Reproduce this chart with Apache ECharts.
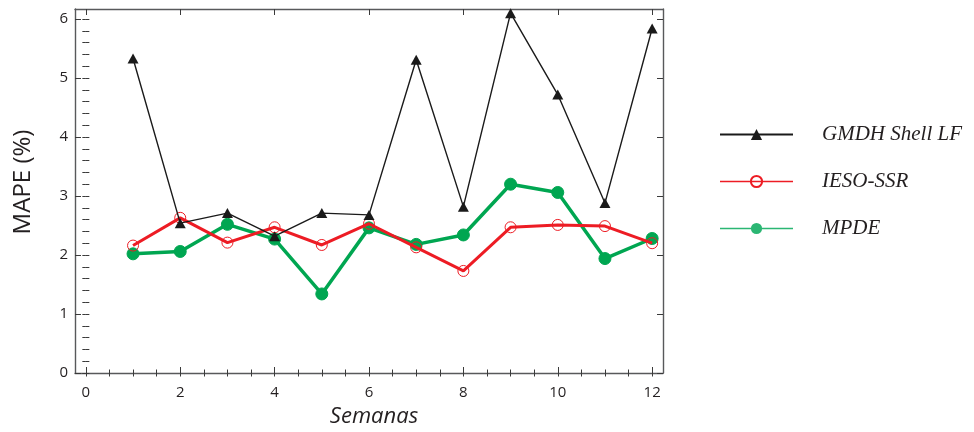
<!DOCTYPE html>
<html>
<head>
<meta charset="utf-8">
<script src="https://cdn.jsdelivr.net/npm/echarts@6/dist/echarts.min.js"></script>
<style>
  html, body { margin: 0; padding: 0; background: #fff; }
  #chart { width: 974px; height: 432px; }
</style>
</head>
<body>
<div id="chart"></div>
<script>
// Weekly MAPE (%) for three forecasting methods
const weeks = [1, 2, 3, 4, 5, 6, 7, 8, 9, 10, 11, 12];
const gmdh = [5.33, 2.54, 2.71, 2.32, 2.71, 2.68, 5.31, 2.82, 6.10, 4.72, 2.88, 5.84];
const ieso = [2.16, 2.63, 2.21, 2.47, 2.17, 2.53, 2.13, 1.73, 2.47, 2.51, 2.49, 2.20];
const mpde = [2.02, 2.06, 2.52, 2.27, 1.34, 2.46, 2.18, 2.34, 3.20, 3.06, 1.94, 2.28];
const seriesNames = ['GMDH Shell LF', 'IESO-SSR', 'MPDE'];

// Axis ticks
const xMajorTicks = [0, 2, 4, 6, 8, 10, 12];
const yMajorTicks = [0, 1, 2, 3, 4, 5, 6];
const xMinorTicks = [];
for (let v = 0; v <= 12; v += 0.5) xMinorTicks.push(v);
const yMinorTicks = [];
for (let i = 0; i <= 30; i++) yMinorTicks.push(Math.round(i * 2) / 10);

const xRange = [-0.23, 12.23];
const yRange = [0, 6.17];

const pairs = vals => weeks.map((w, i) => [w, vals[i]]);

const textColor = '#231f20';
const tickColor = '#3a3a3a';
const frameColor = '#58595b';
const sans = 'Open Sans';

function axis(dim, position, opts) {
  const range = dim === 'x' ? xRange : yRange;
  return Object.assign({
    type: 'value', position,
    min: range[0], max: range[1],
    axisLine: { show: false },
    axisTick: { show: false },
    axisLabel: { show: false },
    splitLine: { show: false }
  }, opts);
}
const frameLine = { show: true, onZero: false, lineStyle: { color: frameColor, width: 1.4 } };
const majorTick = vals => ({ show: true, inside: true, length: 6, customValues: vals, lineStyle: { color: tickColor, width: 1 } });
const minorTick = vals => ({ show: true, inside: true, length: 3.5, customValues: vals, lineStyle: { color: tickColor, width: 1 } });

const chart = echarts.init(document.getElementById('chart'), null, { renderer: 'canvas' });
chart.setOption({
  animation: false,
  backgroundColor: '#ffffff',
  grid: { left: 75, right: 311, top: 9, bottom: 59, outerBoundsMode: 'none', containLabel: false },
  xAxis: [
    axis('x', 'bottom', {
      axisLine: frameLine,
      axisTick: majorTick(xMajorTicks),
      axisLabel: { show: true, customValues: xMajorTicks, margin: 12, color: textColor, fontSize: 15, fontFamily: sans },
      name: 'Semanas', nameLocation: 'middle', nameGap: 33,
      nameTextStyle: { fontSize: 22, fontStyle: 'italic', fontFamily: sans, color: textColor, padding: [0, 0, 0, 10] }
    }),
    axis('x', 'bottom', { axisTick: minorTick(xMinorTicks) }),
    axis('x', 'top', { axisLine: frameLine, axisTick: majorTick(xMajorTicks) }),
    axis('x', 'top', { axisTick: minorTick(xMinorTicks) })
  ],
  yAxis: [
    axis('y', 'left', {
      axisLine: frameLine,
      axisTick: majorTick(yMajorTicks),
      axisLabel: { show: true, customValues: yMajorTicks, margin: 7, color: textColor, fontSize: 15, fontFamily: sans },
      name: 'MAPE (%)', nameLocation: 'middle', nameGap: 40,
      nameTextStyle: { fontSize: 24, fontFamily: sans, color: textColor, padding: [0, 0, 0, 18] }
    }),
    axis('y', 'left', { axisTick: minorTick(yMinorTicks) }),
    axis('y', 'right', { axisLine: frameLine, axisTick: majorTick(yMajorTicks) }),
    axis('y', 'right', { axisTick: minorTick(yMinorTicks) })
  ],
  legend: {
    orient: 'vertical', left: 719, top: 124, padding: 0,
    itemWidth: 73, itemHeight: 14, itemGap: 26,
    textStyle: { fontFamily: 'Liberation Serif', fontStyle: 'italic', fontSize: 21, color: textColor, padding: [0, 0, 0, 24] },
    data: [
      { name: seriesNames[0], lineStyle: { width: 2 } },
      { name: seriesNames[1], lineStyle: { width: 1.6 } },
      { name: seriesNames[2], lineStyle: { width: 1.6, color: '#2bb673' }, itemStyle: { color: '#2bb673', borderColor: '#2bb673' } }
    ]
  },
  series: [
    {
      name: seriesNames[2], type: 'line', clip: false, z: 2,
      data: pairs(mpde),
      symbol: 'circle', symbolSize: 12,
      lineStyle: { color: '#00a651', width: 3.5 },
      itemStyle: { color: '#00a651', borderColor: '#00a651' }
    },
    {
      name: seriesNames[1], type: 'line', clip: false, z: 3,
      data: pairs(ieso),
      symbol: 'circle', symbolSize: 11,
      lineStyle: { color: '#ed1c24', width: 3 },
      itemStyle: { color: 'rgba(255,255,255,0)', borderColor: '#ed1c24', borderWidth: 1 }
    },
    {
      name: seriesNames[0], type: 'line', clip: false, z: 4,
      data: pairs(gmdh),
      symbol: 'triangle', symbolSize: [11, 10],
      lineStyle: { color: '#1a1a1a', width: 1.4 },
      itemStyle: { color: '#1a1a1a' }
    }
  ]
});
</script>
</body>
</html>
